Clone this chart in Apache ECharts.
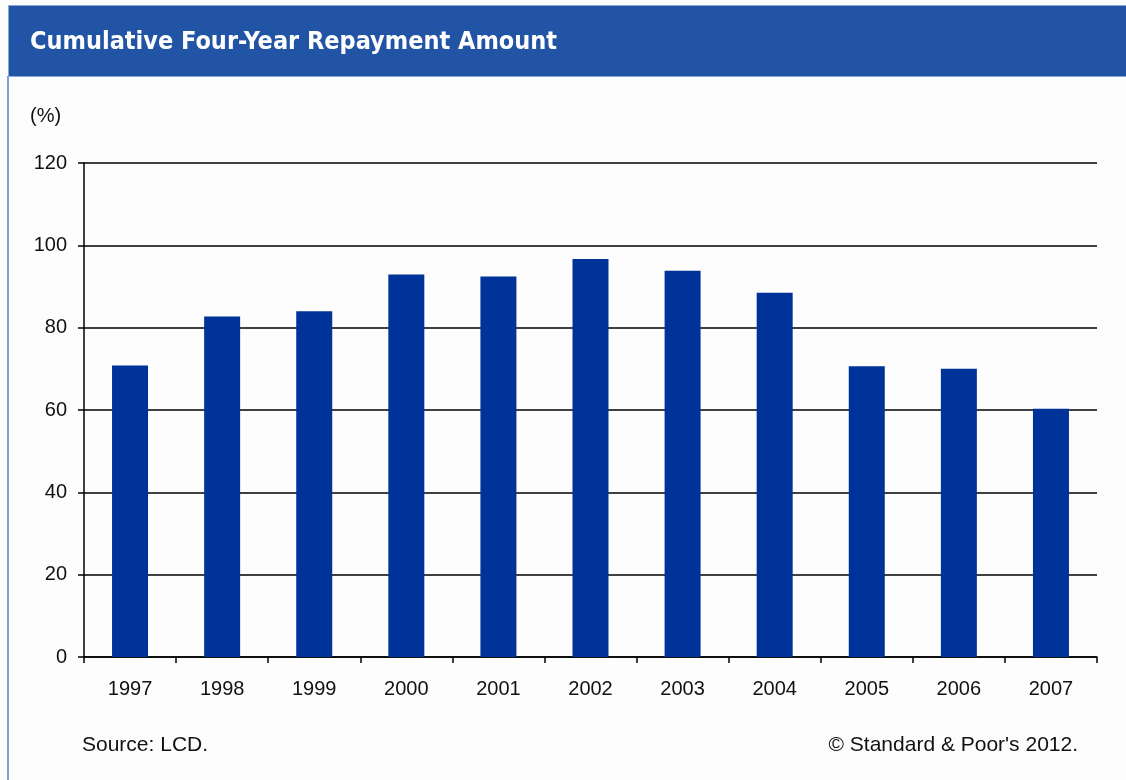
<!DOCTYPE html>
<html>
<head>
<meta charset="utf-8">
<style>
  html, body { margin: 0; padding: 0; background: #fdfdfd; }
  #chart { width: 1126px; height: 780px; }
</style>
<script src="https://cdn.jsdelivr.net/npm/echarts@6/dist/echarts.min.js"></script>
</head>
<body>
<div id="chart"></div>
<script>
// Loan repayment data, by vintage year
const years = ['1997', '1998', '1999', '2000', '2001', '2002', '2003', '2004', '2005', '2006', '2007'];
const repaymentPct = [70.8, 82.7, 84.0, 92.9, 92.4, 96.7, 93.8, 88.5, 70.6, 70.0, 60.3];
const axisMin = 0;
const axisMax = 120;
const axisStep = 20;

const textFont = '"Liberation Sans", Arial, sans-serif';
const chart = echarts.init(document.getElementById('chart'), null, { renderer: 'canvas' });

chart.setOption({
  backgroundColor: '#fdfdfd',
  animation: false,
  graphic: [
    // header band
    { type: 'rect', left: 8, top: 5, shape: { width: 1118, height: 71 },
      style: { fill: '#2254a5', stroke: '#8aa8dc', lineWidth: 1 }, z: 0 },
    // left panel border
    { type: 'rect', left: 7, top: 76, shape: { width: 2, height: 704 },
      style: { fill: '#7d9fd8' }, z: 0 },
    { type: 'text', left: 30, top: 30,
      style: { text: 'Cumulative Four-Year Repayment Amount', fill: '#ffffff',
        font: 'bold 25px "Liberation Sans Narrow", "DejaVu Sans Condensed", Arial, sans-serif' }, z: 2 },
    { type: 'text', left: 30, top: 106,
      style: { text: '(%)', fill: '#111', font: '20px ' + textFont } },
    { type: 'text', left: 82, top: 735,
      style: { text: 'Source: LCD.', fill: '#111', font: '21px ' + textFont } },
    { type: 'text', right: 48, top: 735,
      style: { text: '\u00A9 Standard & Poor\'s 2012.', fill: '#111', font: '21px ' + textFont } }
  ],
  grid: { left: 84, right: 29, top: 163, bottom: 123, containLabel: false },
  xAxis: {
    type: 'category',
    data: years,
    boundaryGap: true,
    axisLine: { show: true, lineStyle: { color: '#000', width: 1.5 } },
    axisTick: { show: true, length: 6, lineStyle: { color: '#000', width: 1.5 } },
    axisLabel: { color: '#111', fontSize: 20, margin: 22, fontFamily: textFont },
    splitLine: { show: false }
  },
  yAxis: {
    type: 'value',
    min: axisMin,
    max: axisMax,
    interval: axisStep,
    axisLine: { show: true, lineStyle: { color: '#000', width: 1.5 } },
    axisTick: { show: true, length: 6, lineStyle: { color: '#000', width: 1.5 } },
    axisLabel: { color: '#111', fontSize: 20, margin: 17, fontFamily: textFont },
    splitLine: { show: true, lineStyle: { color: '#000', width: 1.5 } }
  },
  series: [{
    type: 'bar',
    data: repaymentPct,
    barWidth: 36,
    itemStyle: { color: '#003399' }
  }]
});
</script>
</body>
</html>
